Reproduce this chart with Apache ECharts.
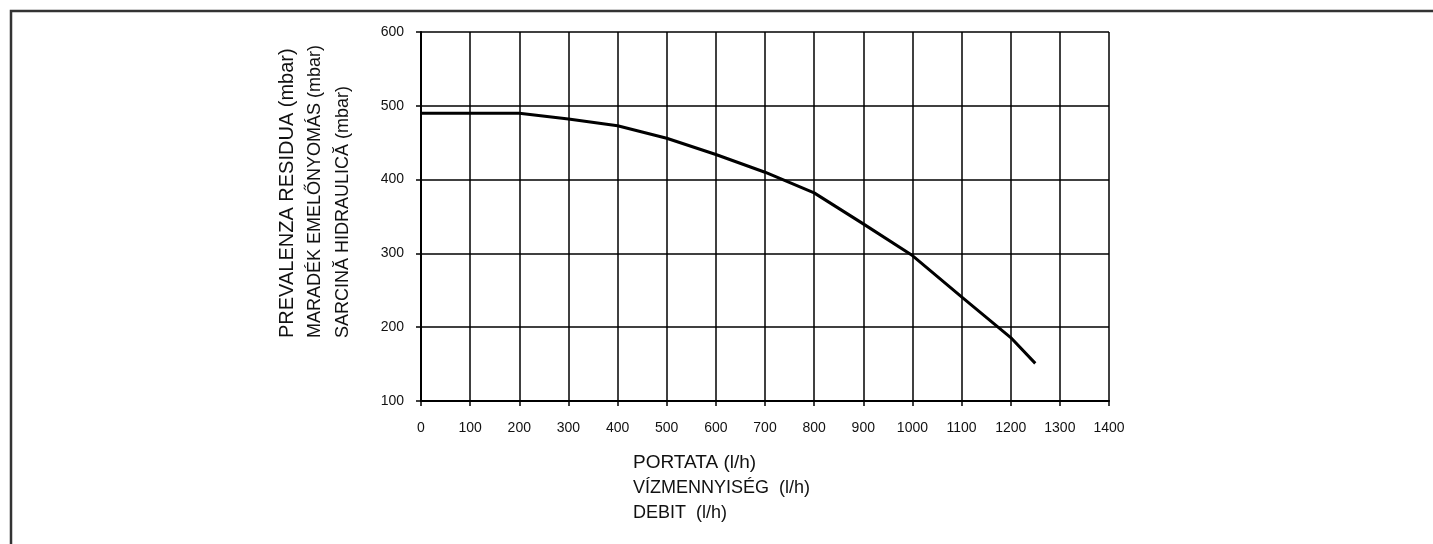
<!DOCTYPE html>
<html>
<head>
<meta charset="utf-8">
<script src="https://cdn.jsdelivr.net/npm/echarts@6/dist/echarts.min.js"></script>
<style>
    html, body { margin: 0; padding: 0; background: #fff; }
    #main { width: 1433px; height: 544px; }
</style>
</head>
<body>
<div id="main"></div>
<script>
// portata (l/h) / prevalenza residua (mbar)
var flowValues = [0, 200, 300, 400, 500, 600, 700, 800, 900, 1000, 1100, 1200, 1250];
var headValues = [490, 490, 482, 473, 456, 434, 410, 382, 340, 297, 241, 186, 151];

var yTitleLines = ['PREVALENZA RESIDUA (mbar)', 'MARADÉK EMELŐNYOMÁS (mbar)', 'SARCINĂ HIDRAULICĂ (mbar)'];
var xTitleLines = ['PORTATA (l/h)', 'VÍZMENNYISÉG  (l/h)', 'DEBIT  (l/h)'];

var chart = echarts.init(document.getElementById('main'));

var curve = [];
for (var i = 0; i < flowValues.length; i++) {
    curve.push([flowValues[i], headValues[i]]);
}

var graphics = [
    {
        type: 'polyline',
        shape: { points: [[11, 544], [11, 11], [1433, 11]] },
        style: { stroke: '#333', lineWidth: 2.5, fill: null }
    }
];
// the first line is drawn a bit larger in the original
var yTitleSizes = [20, 18, 18];
for (var j = 0; j < yTitleLines.length; j++) {
    graphics.push({
        type: 'text',
        x: 287 + j * 28,
        y: 338,
        rotation: Math.PI / 2,
        style: {
            text: yTitleLines[j],
            font: yTitleSizes[j] + 'px "Liberation Sans", Arial, sans-serif',
            fill: '#111',
            align: 'left',
            verticalAlign: 'middle'
        }
    });
}
for (var k = 0; k < xTitleLines.length; k++) {
    graphics.push({
        type: 'text',
        x: 633,
        y: 463 + k * 25,
        style: {
            text: xTitleLines[k],
            font: (k === 0 ? '19px' : '18px') + ' "Liberation Sans", Arial, sans-serif',
            fill: '#111',
            align: 'left',
            verticalAlign: 'middle'
        }
    });
}

var plainNumber = function (v) { return String(v); };

var option = {
    animation: false,
    backgroundColor: '#fff',
    textStyle: { fontFamily: '"Liberation Sans", Arial, sans-serif' },
    grid: { left: 421, right: 324, top: 32, bottom: 143 },
    xAxis: {
        type: 'value',
        min: 0,
        max: 1400,
        interval: 100,
        axisLine: { lineStyle: { color: '#000', width: 2 } },
        axisTick: { show: true, length: 5, lineStyle: { color: '#000', width: 1.5 } },
        axisLabel: { color: '#111', fontSize: 14, margin: 20, formatter: plainNumber },
        splitLine: { show: true, lineStyle: { color: '#000', width: 1.5 } }
    },
    yAxis: {
        type: 'value',
        min: 100,
        max: 600,
        interval: 100,
        axisLine: { show: true, lineStyle: { color: '#000', width: 2 } },
        axisTick: { show: true, length: 5, lineStyle: { color: '#000', width: 1.5 } },
        axisLabel: { color: '#111', fontSize: 14, margin: 17, formatter: plainNumber },
        splitLine: { show: true, lineStyle: { color: '#000', width: 1.5 } }
    },
    series: [
        {
            type: 'line',
            data: curve,
            symbol: 'none',
            lineStyle: { color: '#000', width: 3 }
        }
    ],
    graphic: graphics
};

chart.setOption(option);
</script>
</body>
</html>
